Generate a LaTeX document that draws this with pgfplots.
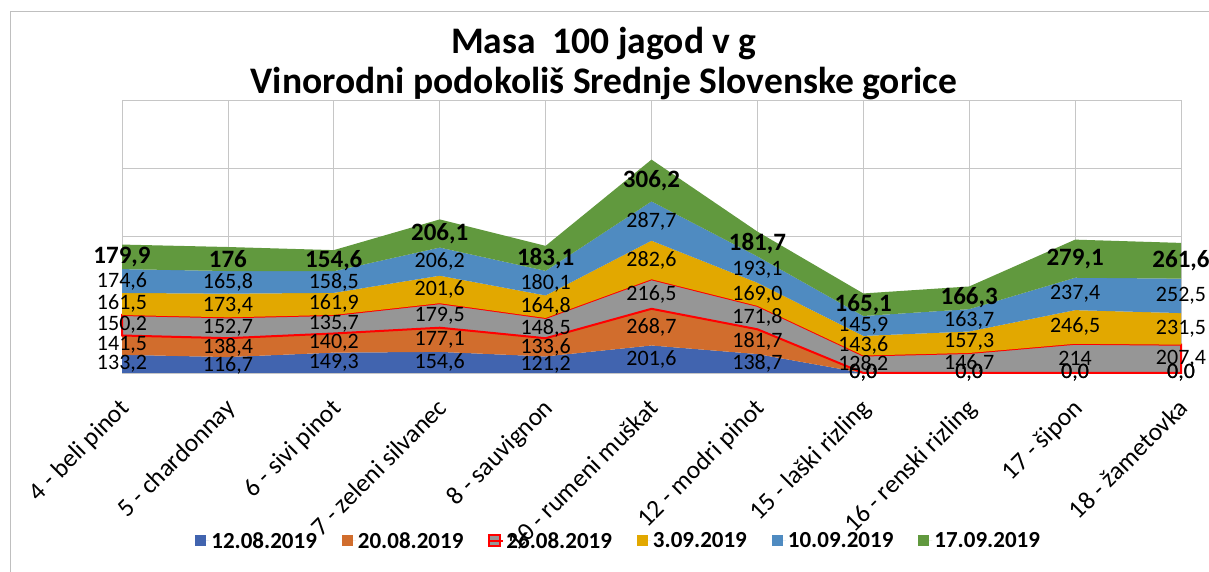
\documentclass[border=0pt]{standalone}
\usepackage{fontspec}
\setmainfont{Carlito}
\usepackage{pgfplots}
\usepackage{pgfplotstable}
\pgfplotsset{compat=1.18}

\definecolor{c1}{RGB}{65,100,175}
\definecolor{c2}{RGB}{209,109,45}
\definecolor{c3}{RGB}{150,150,150}
\definecolor{c4}{RGB}{226,168,0}
\definecolor{c5}{RGB}{79,139,193}
\definecolor{c6}{RGB}{97,153,62}

% one row per variety, value and printed label for each sampling date
\pgfplotstableread{
x y1 l1 y2 l2 y3 l3 y4 l4 y5 l5 y6 l6
0 133.2 133,2 141.5 141,5 150.2 150,2 161.5 161,5 174.6 174,6 179.9 179,9
1 116.7 116,7 138.4 138,4 152.7 152,7 173.4 173,4 165.8 165,8 176 176
2 149.3 149,3 140.2 140,2 135.7 135,7 161.9 161,9 158.5 158,5 154.6 154,6
3 154.6 154,6 177.1 177,1 179.5 179,5 201.6 201,6 206.2 206,2 206.1 206,1
4 121.2 121,2 133.6 133,6 148.5 148,5 164.8 164,8 180.1 180,1 183.1 183,1
5 201.6 201,6 268.7 268,7 216.5 216,5 282.6 282,6 287.7 287,7 306.2 306,2
6 138.7 138,7 181.7 181,7 171.8 171,8 169.0 169,0 193.1 193,1 181.7 181,7
7 0 0,0 0 0,0 128.2 128,2 143.6 143,6 145.9 145,9 165.1 165,1
8 0 0,0 0 0,0 146.7 146,7 157.3 157,3 163.7 163,7 166.3 166,3
9 0 0,0 0 0,0 214 214 246.5 246,5 237.4 237,4 279.1 279,1
10 0 0,0 0 0,0 207.4 207,4 231.5 231,5 252.5 252,5 261.6 261,6
}\data

\pgfplotsset{
  lab/.style={stack plots=false, draw=none, forget plot, nodes near coords,
    point meta=explicit symbolic,
    every node near coord/.append style={anchor=center, inner sep=0pt, text=black,
      font=\fontsize{22}{26}\selectfont}},
}

\begin{document}
\begin{tikzpicture}
\useasboundingbox (0,0) rectangle (1209pt,572pt);
\clip (0,0) rectangle (1209pt,572pt);
\draw[gray!50, line width=1pt] (10pt,-20pt) -- (10pt,560pt) -- (1240pt,560pt);
\begin{axis}[
    at={(122pt,199pt)}, anchor=south west,
    width=1059pt, height=273pt, scale only axis,
    xmin=0, xmax=10, ymin=0, ymax=2000,
    xtick={0,...,10},
    xticklabels={4 - beli pinot, 5 - chardonnay, 6 - sivi pinot, 7 - zeleni silvanec,
      8 - sauvignon, 10 - rumeni muškat, 12 - modri pinot, 15 - laški rizling,
      16 - renski rizling, 17 - šipon, 18 - žametovka},
    xticklabel style={font=\fontsize{25.5}{30}\selectfont, inner sep=0pt,
      xshift=-4pt, yshift=-24pt, rotate=45, anchor=north east},
    ytick={0,500,...,2000},
    yticklabel style={opacity=0},
    xmajorgrids, ymajorgrids,
    grid style={gray!45, line width=0.8pt},
    axis line style={gray!45, line width=0.8pt},
    major tick length=0pt,
    clip=false,
    title={Masa\ \ 100 jagod v g\\Vinorodni podokoliš Srednje Slovenske gorice},
    title style={font=\fontsize{37.5}{40}\selectfont\bfseries, align=center,
      at={(rel axis cs:0.455,1)}, anchor=south, inner sep=0pt, yshift=-6pt},
    legend columns=6,
    legend style={at={(rel axis cs:0.469,-0.615)}, anchor=center, draw=none, fill=none,
      font=\fontsize{23}{26}\selectfont\bfseries,
      /tikz/every even column/.append style={column sep=23pt}},
    legend image code/.code={\path[#1] (0pt,-5.5pt) rectangle (11pt,5.5pt);
      \path (0pt,0pt) -- (14pt,0pt);},
]
\addplot[stack plots=y, fill=c1, draw=none] table[x=x, y=y1] {\data} \closedcycle;
\addplot[stack plots=y, fill=c2, draw=none] table[x=x, y=y2] {\data} \closedcycle;
\addplot[stack plots=y, fill=c3, draw=red, line width=2pt] table[x=x, y=y3] {\data} \closedcycle;
\addplot[stack plots=y, fill=c4, draw=none] table[x=x, y=y4] {\data} \closedcycle;
\addplot[stack plots=y, fill=c5, draw=none] table[x=x, y=y5] {\data} \closedcycle;
\addplot[stack plots=y, fill=c6, draw=none] table[x=x, y=y6] {\data} \closedcycle;
\legend{12.08.2019, 20.08.2019, 26.08.2019, 3.09.2019, 10.09.2019, 17.09.2019}

% data labels, centred in each band
\addplot[lab] table[x=x, y expr=0.5*\thisrow{y1}, meta=l1] {\data};
\addplot[lab] table[x=x, y expr=\thisrow{y1}+0.5*\thisrow{y2}, meta=l2] {\data};
\addplot[lab] table[x=x, y expr=\thisrow{y1}+\thisrow{y2}+0.5*\thisrow{y3}, meta=l3] {\data};
\addplot[lab] table[x=x, y expr=\thisrow{y1}+\thisrow{y2}+\thisrow{y3}+0.5*\thisrow{y4}, meta=l4] {\data};
\addplot[lab] table[x=x, y expr=\thisrow{y1}+\thisrow{y2}+\thisrow{y3}+\thisrow{y4}+0.5*\thisrow{y5}, meta=l5] {\data};
\addplot[lab, every node near coord/.append style={font=\fontsize{25}{30}\selectfont\bfseries}]
  table[x=x, y expr=\thisrow{y1}+\thisrow{y2}+\thisrow{y3}+\thisrow{y4}+\thisrow{y5}+0.5*\thisrow{y6}, meta=l6] {\data};
\end{axis}
\end{tikzpicture}
\end{document}
